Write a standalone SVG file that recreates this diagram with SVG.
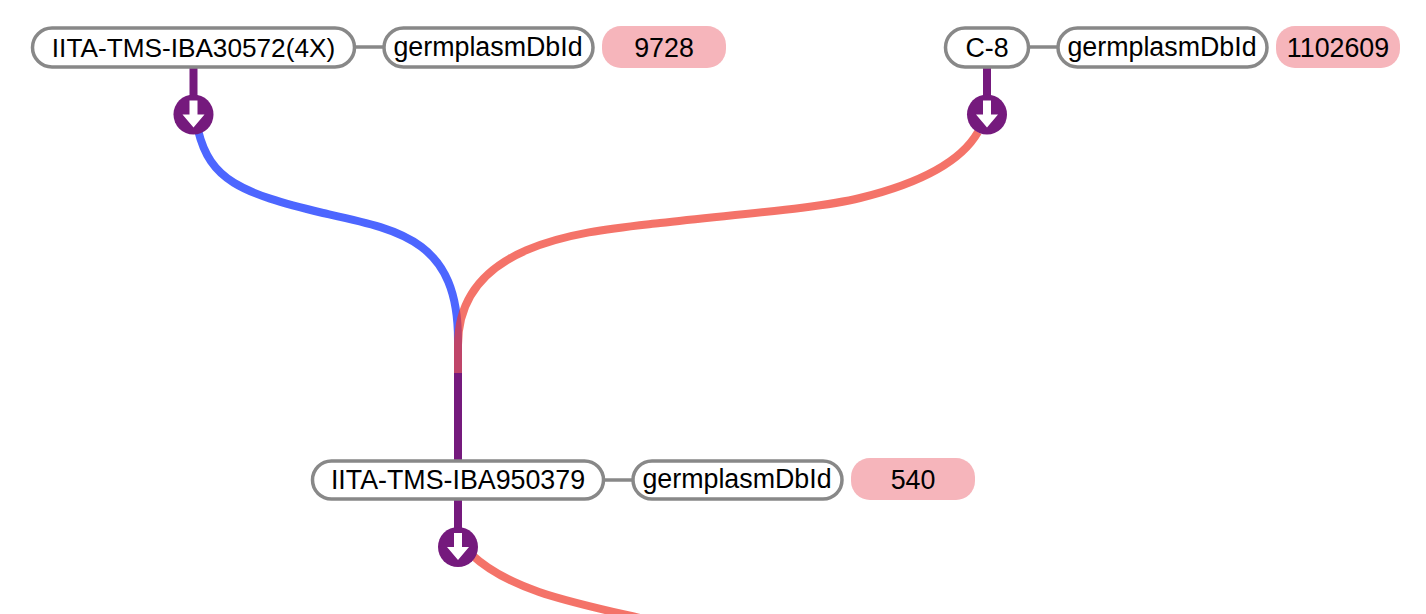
<svg xmlns="http://www.w3.org/2000/svg" width="1426" height="614" viewBox="0 0 1426 614">
<style>
text{font-family:"Liberation Sans",Arial,sans-serif;font-size:26.800px;fill:#000;text-anchor:middle;dominant-baseline:central}
.n{fill:#fff;stroke:#888;stroke-width:3.5}
.v{fill:#f6b5bb}
.l{stroke:#888;stroke-width:3.5;fill:none}
.s{stroke:#751a7d;stroke-width:8;fill:none}
.c{stroke-width:8;fill:none}
.r{stroke:#ef372a;stroke-opacity:.7}
.b{fill:#751a7d}
.a{fill:#fff}
</style>
<defs>
<g id="dot"><circle class="b" r="20"/><path class="a" d="M-4-14H4V0H11L0 13-11 0H-4Z"/></g>
</defs>
<g id="connectors">
<path class="c" stroke="#4d66ff" d="M198 130C210 180 240 193 323 213C400 230 458 240 458 340V373"/>
<path class="c r" d="M978 132C962 160 925 182 860 198C820 208 740 214 660 223C590 231 458 240 458 345V373"/>
<path class="s" d="M458 373V461"/>
<path class="s" d="M193.500 67V100"/>
<path class="s" d="M987 67V100"/>
<path class="s" d="M458 499V532"/>
<path class="c r" d="M472 555C510 590 570 602 640 618"/>
<path class="l" d="M355 47H384"/>
<path class="l" d="M1029 47H1058"/>
<path class="l" d="M605 480H633"/>
</g>
<g id="node-iita-30572"><rect class="n" x="32.500" y="28" width="322" height="39" rx="19.500"/><text x="193.500" y="47.500" style="font-size:26.200px">IITA-TMS-IBA30572(4X)</text></g>
<g id="key-30572"><rect class="n" x="384" y="28" width="209" height="39" rx="19.500"/><text x="488" y="46.500">germplasmDbId</text></g>
<g id="value-30572"><rect class="v" x="602" y="26" width="124" height="42" rx="19"/><text x="664" y="47.500">9728</text></g>
<use href="#dot" x="193.500" y="114.500"/>
<g id="node-c8"><rect class="n" x="945.500" y="28" width="83" height="39" rx="19.500"/><text x="987" y="47.500">C-8</text></g>
<g id="key-c8"><rect class="n" x="1058" y="28" width="209" height="39" rx="19.500"/><text x="1162" y="46.500">germplasmDbId</text></g>
<g id="value-c8"><rect class="v" x="1276" y="26" width="124" height="42" rx="19"/><text x="1338" y="47.500">1102609</text></g>
<use href="#dot" x="987" y="114.500"/>
<g id="node-iita-950379"><rect class="n" x="312.500" y="461" width="291" height="38" rx="19"/><text x="458" y="480">IITA-TMS-IBA950379</text></g>
<g id="key-950379"><rect class="n" x="633" y="461" width="209" height="38" rx="19"/><text x="737" y="478.500">germplasmDbId</text></g>
<g id="value-950379"><rect class="v" x="851" y="458" width="124" height="42" rx="19"/><text x="913" y="480">540</text></g>
<use href="#dot" x="458" y="547"/>
</svg>
